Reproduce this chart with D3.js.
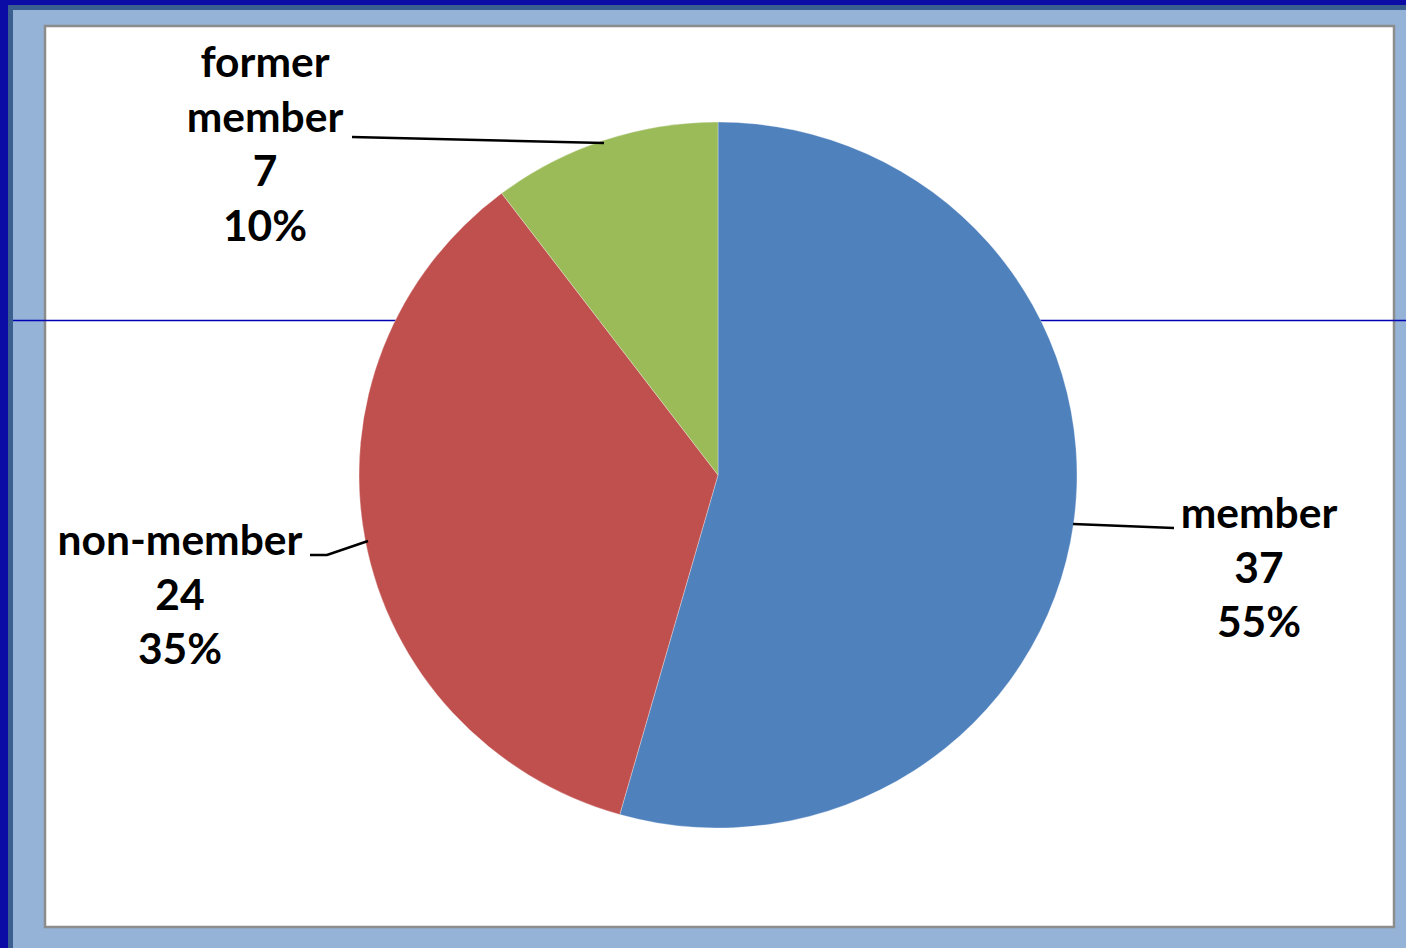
<!DOCTYPE html>
<html>
<head>
<meta charset="utf-8">
<script src="https://cdn.jsdelivr.net/npm/d3@7"></script>
<style>
  html, body { margin: 0; padding: 0; background: #0b0ba6; overflow: hidden; }
  svg { display: block; }
</style>
</head>
<body>
<script>
// ---- data ----
const categories = ["member", "non-member", "former member"];
const values = [37, 24, 7];
const percentLabels = ["55%", "35%", "10%"];
const colors = ["#4f81bd", "#c0504d", "#9bbb59"];

const W = 1406, H = 948;
const svg = d3.select("body").append("svg").attr("width", W).attr("height", H);

// slide background layers
svg.append("rect").attr("x", 0).attr("y", 0).attr("width", W).attr("height", H).attr("fill", "#0b0ba6");
svg.append("rect").attr("x", 8).attr("y", 5).attr("width", W - 8).attr("height", H - 5).attr("fill", "#3b5f8e");
svg.append("rect").attr("x", 13).attr("y", 10).attr("width", W - 13).attr("height", H - 10).attr("fill", "#95b3d7");

// chart area
svg.append("rect").attr("x", 45).attr("y", 26).attr("width", 1349).attr("height", 901)
  .attr("fill", "#ffffff").attr("stroke", "#8c8c8c").attr("stroke-width", 2.5);

// horizontal guide line (behind pie)
svg.append("line").attr("x1", 13).attr("x2", W).attr("y1", 320.5).attr("y2", 320.5)
  .attr("stroke", "#0000b4").attr("stroke-width", 1.5);

// pie
const cx = 718, cy = 475, rx = 359, ry = 353;
const pie = d3.pie().sort(null).value(d => d)(values);
const arc = d3.arc().innerRadius(0).outerRadius(rx);
const g = svg.append("g").attr("transform", `translate(${cx},${cy}) scale(1,${ry / rx})`);
g.selectAll("path").data(pie).join("path")
  .attr("d", arc)
  .attr("fill", (d, i) => colors[i])
  .attr("stroke", "#ffffff")
  .attr("stroke-opacity", 0.5)
  .attr("stroke-width", 0.6)
  .attr("vector-effect", "non-scaling-stroke");

// leader lines
const leaders = [
  [[1073, 524], [1174, 528]],
  [[310, 555], [327, 555], [368, 541]],
  [[352, 137], [604, 143]]
];
svg.selectAll("path.leader").data(leaders).join("path")
  .attr("class", "leader")
  .attr("d", d => d3.line()(d))
  .attr("fill", "none").attr("stroke", "#000").attr("stroke-width", 2.6);

// labels
const labelPos = [
  { x: 1259, y: 528 },
  { x: 180, y: 555 },
  { x: 265, y: 77 }
];
const lineH = 54.5;
const fontSize = 42.5;
categories.forEach((c, i) => {
  const lines = (i === 2 ? ["former", "member"] : [c]).concat([String(values[i]), percentLabels[i]]);
  const t = svg.append("text")
    .attr("x", labelPos[i].x).attr("y", labelPos[i].y)
    .attr("text-anchor", "middle")
    .attr("font-family", "Lato, 'Open Sans', sans-serif")
    .attr("font-weight", "bold")
    .attr("font-size", fontSize)
    .attr("fill", "#000");
  lines.forEach((l, k) => {
    t.append("tspan").attr("x", labelPos[i].x).attr("dy", k === 0 ? 0 : lineH).text(l);
  });
});
</script>
</body>
</html>
